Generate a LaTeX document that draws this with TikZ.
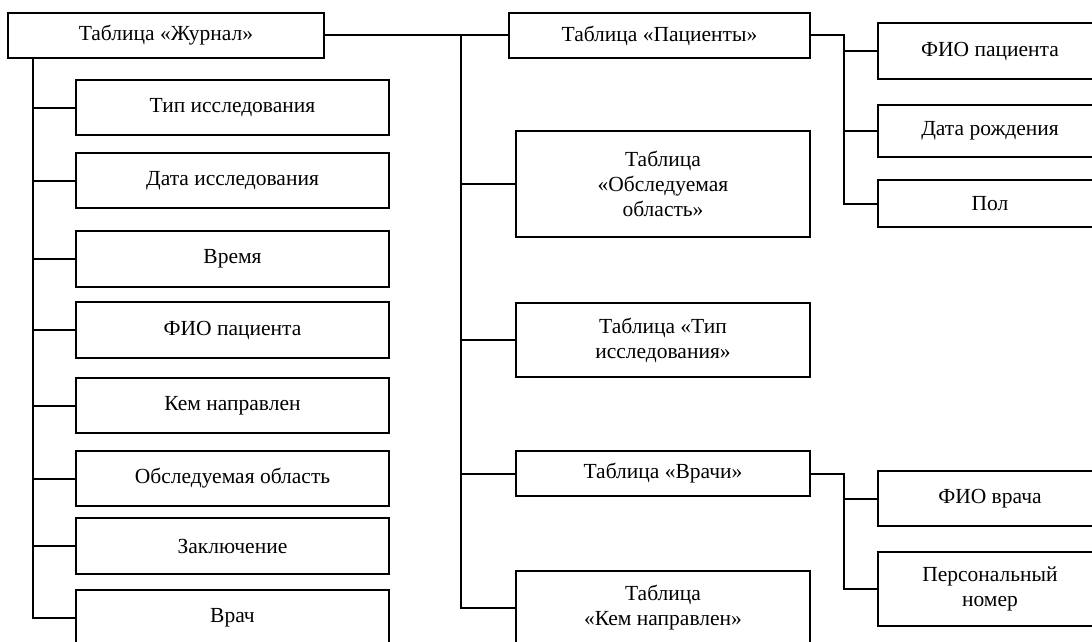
\documentclass[tikz,border=0pt]{standalone}
\usepackage{fontspec}
\setmainfont{Liberation Serif}
\tikzset{
	box/.style = {draw, line width=2pt, align=center, inner sep=0pt, font=\fontsize{21.5}{25}\selectfont},
	lbox/.style = {box, minimum width=313pt, minimum height=55pt},
	mbox/.style = {box, minimum width=294pt},
	rbox/.style = {box, minimum width=224pt},
	link/.style = {line width=2pt},
}
\begin{document}
\begin{tikzpicture} [x=1pt, y=-1pt]
	\clip (0,0) rectangle (1092,642);
	% journal and its fields
	\node [box, minimum width=316pt, minimum height=45pt] (zhurnal) at (166,35.5) {Таблица «Журнал»};
	\node [lbox] (tip) at (232.5,107.5) {Тип исследования};
	\node [lbox] (data) at (232.5,180.5) {Дата исследования};
	\node [lbox, minimum height=56pt] (vremya) at (232.5,259) {Время};
	\node [lbox, minimum height=56pt] (fio) at (232.5,330) {ФИО пациента};
	\node [lbox] (kem) at (232.5,405.5) {Кем направлен};
	\node [lbox] (oblast) at (232.5,478.5) {Обследуемая область};
	\node [lbox, minimum height=56pt] (zakl) at (232.5,546) {Заключение};
	\node [lbox] (vrach) at (232.5,617.5) {Врач};
	% linked tables
	\node [box, minimum width=301pt, minimum height=45pt] (pacienty) at (659.5,35.5) {Таблица «Пациенты»};
	\node [mbox, minimum height=106pt] (tobl) at (663,184) {Таблица\\«Обследуемая\\область»};
	\node [mbox, minimum height=74pt] (ttip) at (663,340) {Таблица «Тип\\исследования»};
	\node [mbox, minimum height=45pt] (vrachi) at (663,473.5) {Таблица «Врачи»};
	\node [mbox, minimum height=74pt] (tkem) at (663,608) {Таблица\\«Кем направлен»};
	% fields of patients and doctors
	\node [rbox, minimum height=56pt] (fiop) at (990,51) {ФИО пациента};
	\node [rbox, minimum height=52pt] (rozhd) at (990,131) {Дата рождения};
	\node [rbox, minimum height=47pt] (pol) at (990,203.5) {Пол};
	\node [rbox, minimum height=55pt] (fiov) at (990,498.5) {ФИО врача};
	\node [rbox, minimum height=74pt] (nomer) at (990,589) {Персональный\\номер};
	% trunks
	\coordinate (ltrunk) at (33,0);
	\coordinate (mtrunk) at (461,0);
	\coordinate (rtrunk) at (844,0);
	\draw [link] (ltrunk |- zhurnal.south) |- (vrach.west);
	\foreach \n in {tip, data, vremya, fio, kem, oblast, zakl}
		\draw [link] (ltrunk |- \n.west) -- (\n.west);
	\draw [link] (zhurnal.east) -- (pacienty.west);
	\draw [link] (mtrunk |- pacienty.west) |- (tkem.west);
	\foreach \n in {tobl, ttip, vrachi}
		\draw [link] (mtrunk |- \n.west) -- (\n.west);
	\draw [link] (pacienty.east) -| (rtrunk |- pol.west) -- (pol.west);
	\draw [link] (rtrunk |- fiop.west) -- (fiop.west);
	\draw [link] (rtrunk |- rozhd.west) -- (rozhd.west);
	\draw [link] (vrachi.east) -| (rtrunk |- nomer.west) -- (nomer.west);
	\draw [link] (rtrunk |- fiov.west) -- (fiov.west);
\end{tikzpicture}
\end{document}
